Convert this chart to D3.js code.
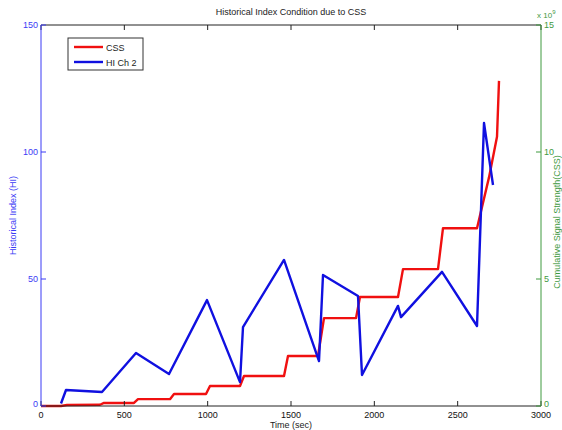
<!DOCTYPE html>
<html>
<head>
<meta charset="utf-8">
<script src="https://cdn.jsdelivr.net/npm/d3@7"></script>
<style>
  body { margin: 0; background: #fff; }
  text { font-family: "Liberation Sans", Arial, sans-serif; }
</style>
</head>
<body>
<div id="chart"></div>
<script>
// HI channel 2 (left axis)
var hiTime = [120, 150, 366, 570, 768, 996, 1194, 1212, 1458, 1668, 1692, 1902, 1926, 2142, 2160, 2406, 2616, 2658, 2712];
var hiValue = [1, 6.3, 5.5, 20.9, 12.6, 41.7, 9.4, 31.1, 57.5, 17.7, 51.6, 43.3, 12.2, 39.4, 35, 52.8, 31.5, 111.4, 87];

// cumulative signal strength, x 10^9 (right axis)
var cssTime = [0, 120, 156, 354, 378, 558, 582, 774, 798, 990, 1014, 1194, 1218, 1458, 1482, 1662, 1698, 1890, 1914, 2142, 2172, 2382, 2412, 2616, 2688, 2736, 2748];
var cssValue = [0, 0, 0.04, 0.05, 0.12, 0.12, 0.27, 0.27, 0.47, 0.47, 0.79, 0.79, 1.18, 1.18, 1.97, 1.97, 3.46, 3.46, 4.29, 4.29, 5.39, 5.39, 7.0, 7.0, 9.0, 10.6, 12.8];

var xTicks = [0, 500, 1000, 1500, 2000, 2500, 3000];
var leftTicks = [0, 50, 100, 150];
var rightTicks = [0, 5, 10, 15];

var width = 562, height = 430;
var margin = {top: 25, right: 21, bottom: 24, left: 41};

var blue = "#1010e0", red = "#f01010";
var axisBlue = "#3b3bf5", axisGreen = "#3f9a3f";

var svg = d3.select("#chart").append("svg")
  .attr("width", width)
  .attr("height", height);

var x = d3.scaleLinear().domain([0, 3000]).range([margin.left, width - margin.right]);
var yL = d3.scaleLinear().domain([0, 150]).range([height - margin.bottom, margin.top]);
var yR = d3.scaleLinear().domain([0, 15]).range([height - margin.bottom, margin.top]);

var x0 = x.range()[0], x1 = x.range()[1];
var yb = yL.range()[0], yt = yL.range()[1];

// lines
var hiData = hiTime.map(function (t, i) { return [t, hiValue[i]]; });
var cssData = cssTime.map(function (t, i) { return [t, cssValue[i]]; });

svg.append("path")
  .datum(cssData)
  .attr("fill", "none")
  .attr("stroke", red)
  .attr("stroke-width", 2.4)
  .attr("stroke-linejoin", "round")
  .attr("d", d3.line().x(function (d) { return x(d[0]); }).y(function (d) { return yR(d[1]); }));

svg.append("path")
  .datum(hiData)
  .attr("fill", "none")
  .attr("stroke", blue)
  .attr("stroke-width", 2.4)
  .attr("stroke-linejoin", "round")
  .attr("d", d3.line().x(function (d) { return x(d[0]); }).y(function (d) { return yL(d[1]); }));

// frame (top + bottom black)
svg.append("line").attr("x1", x0).attr("x2", x1).attr("y1", yt).attr("y2", yt)
  .attr("stroke", "#222").attr("stroke-width", 1);
svg.append("line").attr("x1", x0).attr("x2", x1).attr("y1", yb).attr("y2", yb)
  .attr("stroke", "#222").attr("stroke-width", 1);

// x ticks, bottom and top, pointing inward
var xt = svg.append("g");
xTicks.forEach(function (v) {
  xt.append("line").attr("x1", x(v)).attr("x2", x(v)).attr("y1", yb).attr("y2", yb - 5)
    .attr("stroke", "#222");
  xt.append("line").attr("x1", x(v)).attr("x2", x(v)).attr("y1", yt).attr("y2", yt + 5)
    .attr("stroke", "#222");
  xt.append("text")
    .attr("x", x(v)).attr("y", yb + 12)
    .attr("text-anchor", "middle")
    .attr("font-size", 9)
    .attr("fill", "#111")
    .text(v);
});

// left axis
svg.append("line").attr("x1", x0).attr("x2", x0).attr("y1", yb).attr("y2", yt)
  .attr("stroke", axisBlue).attr("stroke-width", 1);
leftTicks.forEach(function (v) {
  svg.append("line").attr("x1", x0).attr("x2", x0 + 5).attr("y1", yL(v)).attr("y2", yL(v))
    .attr("stroke", axisBlue);
  svg.append("text")
    .attr("x", x0 - 3).attr("y", yL(v) + (v === 0 ? 1 : 3))
    .attr("text-anchor", "end")
    .attr("font-size", 9)
    .attr("fill", axisBlue)
    .text(v);
});

// right axis
svg.append("line").attr("x1", x1).attr("x2", x1).attr("y1", yb).attr("y2", yt)
  .attr("stroke", axisGreen).attr("stroke-width", 1);
rightTicks.forEach(function (v) {
  svg.append("line").attr("x1", x1).attr("x2", x1 - 5).attr("y1", yR(v)).attr("y2", yR(v))
    .attr("stroke", axisGreen);
  svg.append("text")
    .attr("x", x1 + 3).attr("y", yR(v) + (v === 0 ? 1 : 3))
    .attr("text-anchor", "start")
    .attr("font-size", 9)
    .attr("fill", axisGreen)
    .text(v);
});

// exponent label
var ex = svg.append("text")
  .attr("x", x1 - 4).attr("y", yt - 7)
  .attr("font-size", 8)
  .attr("fill", axisGreen);
ex.append("tspan").text("x 10");
ex.append("tspan").attr("dy", -4).attr("font-size", 6).text("9");

// titles
svg.append("text")
  .attr("x", (x0 + x1) / 2).attr("y", 15)
  .attr("text-anchor", "middle")
  .attr("font-size", 9)
  .attr("fill", "#222")
  .text("Historical Index Condition due to CSS");

svg.append("text")
  .attr("x", (x0 + x1) / 2).attr("y", yb + 22)
  .attr("text-anchor", "middle")
  .attr("font-size", 9)
  .attr("fill", "#222")
  .text("Time (sec)");

svg.append("text")
  .attr("transform", "translate(16," + ((yb + yt) / 2) + ") rotate(-90)")
  .attr("text-anchor", "middle")
  .attr("font-size", 9)
  .attr("fill", axisBlue)
  .text("Historical Index (HI)");

svg.append("text")
  .attr("transform", "translate(559.5,222) rotate(-90)")
  .attr("text-anchor", "middle")
  .attr("font-size", 9)
  .attr("fill", axisGreen)
  .text("Cumulative Signal Strength(CSS)");

// legend
var legend = svg.append("g");
legend.append("rect")
  .attr("x", 68).attr("y", 38).attr("width", 75).attr("height", 32)
  .attr("fill", "#fff").attr("stroke", "#333").attr("stroke-width", 1);
var legendItems = [{name: "CSS", color: red}, {name: "HI Ch 2", color: blue}];
legendItems.forEach(function (d, i) {
  var ly = 47 + i * 15;
  legend.append("line").attr("x1", 74).attr("x2", 103).attr("y1", ly).attr("y2", ly)
    .attr("stroke", d.color).attr("stroke-width", 2.4);
  legend.append("text").attr("x", 106).attr("y", ly + 3.5)
    .attr("font-size", 9).attr("fill", "#222").text(d.name);
});
</script>
</body>
</html>
